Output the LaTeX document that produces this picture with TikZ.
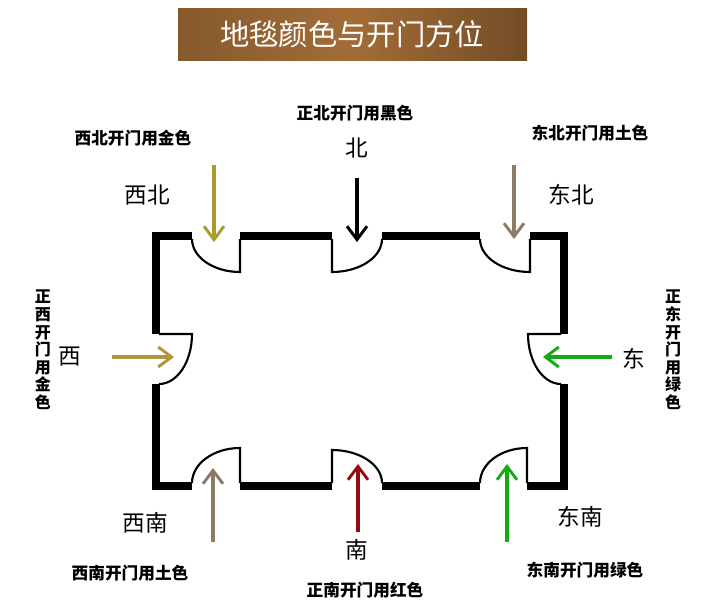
\documentclass[tikz,border=0pt]{standalone}
\usetikzlibrary{arrows.meta}
\usepackage{fontspec}
\setmainfont{Noto Sans CJK SC}
\begin{document}
\begin{tikzpicture}[x=0.75pt,y=-0.75pt,
  wall/.style={line width=6pt,line cap=butt,line join=miter},
  door/.style={line width=1.6pt},
  arr/.style={line width=2.8pt,-{Straight Barb[length=10pt,width=15pt,line width=2.2pt]}},
  lab/.style={font=\bfseries\fontsize{12.5}{15}\selectfont},
  dir/.style={font=\fontsize{17}{19}\selectfont},
  vlab/.style={font=\bfseries\fontsize{12}{13.2}\selectfont,align=center,inner sep=0pt}]
\useasboundingbox (0,0) rectangle (718,615);
\fill[white] (0,0) rectangle (718,615);
\shade[left color=brown!70!black,right color=brown!60!black,middle color=brown!85!black] (178,8) rectangle (527,60);
\node[text=white,font=\fontsize{22}{24}\selectfont] (title) at (352,34) {地毯颜色与开门方位};
% walls
\draw[wall] (156,334) -- (156,236) -- (192,236);
\draw[wall] (240,236) -- (332,236);
\draw[wall] (382,236) -- (480,236);
\draw[wall] (530,236) -- (564,236) -- (564,334);
\draw[wall] (564,384) -- (564,486) -- (527,486);
\draw[wall] (480,486) -- (382,486);
\draw[wall] (332,486) -- (240,486);
\draw[wall] (192,486) -- (156,486) -- (156,384);
% doors
\draw[door] (240,239) -- (240,272) arc[start angle=90,end angle=180,x radius=48,y radius=33];
\draw[door] (332,239) -- (332,272) arc[start angle=90,end angle=0,x radius=50,y radius=33];
\draw[door] (530,239) -- (530,272) arc[start angle=90,end angle=180,x radius=50,y radius=33];
\draw[door] (240,483) -- (240,448) arc[start angle=270,end angle=180,x radius=48,y radius=35];
\draw[door] (332,483) -- (332,450) arc[start angle=270,end angle=360,x radius=50,y radius=33];
\draw[door] (527,483) -- (527,448) arc[start angle=270,end angle=180,x radius=47,y radius=35];
\draw[door] (159,334) -- (192,334) arc[start angle=0,end angle=90,x radius=33,y radius=50];
\draw[door] (561,334) -- (528,334) arc[start angle=180,end angle=90,x radius=33,y radius=50];
% arrows
\coordinate (a1s) at (214,165); \coordinate (a1e) at (214,242);
\coordinate (a2s) at (357,178); \coordinate (a2e) at (357,242);
\coordinate (a3s) at (514,165); \coordinate (a3e) at (514,239);
\coordinate (a4s) at (112,357); \coordinate (a4e) at (174,357);
\coordinate (a5s) at (612,357); \coordinate (a5e) at (543,357);
\coordinate (a6s) at (213,542); \coordinate (a6e) at (213,468);
\coordinate (a7s) at (358,532); \coordinate (a7e) at (358,464);
\coordinate (a8s) at (507,542); \coordinate (a8e) at (507,464);
\draw[arr,color={rgb,255:red,170;green,155;blue,45}] (a1s) -- (a1e);
\draw[arr,black] (a2s) -- (a2e);
\draw[arr,color={rgb,255:red,140;green,122;blue,100}] (a3s) -- (a3e);
\draw[arr,color={rgb,255:red,175;green,150;blue,60}] (a4s) -- (a4e);
\draw[arr,color={rgb,255:red,20;green,170;blue,20}] (a5s) -- (a5e);
\draw[arr,color={rgb,255:red,140;green,122;blue,100}] (a6s) -- (a6e);
\draw[arr,color={rgb,255:red,150;green,10;blue,20}] (a7s) -- (a7e);
\draw[arr,color={rgb,255:red,20;green,170;blue,20}] (a8s) -- (a8e);
% labels
\node[lab] (ln) at (355,113) {正北开门用黑色};
\node[dir] (dn) at (357,148) {北};
\node[lab] (lnw) at (133,138) {西北开门用金色};
\node[dir] (dnw) at (147,195) {西北};
\node[lab] (lne) at (590,133) {东北开门用土色};
\node[dir] (dne) at (571,195) {东北};
\node[vlab] (lw) at (43,350) {正\\西\\开\\门\\用\\金\\色};
\node[dir] (dw) at (70,357) {西};
\node[vlab] (le) at (673,350) {正\\东\\开\\门\\用\\绿\\色};
\node[dir] (de) at (634,359) {东};
\node[dir] (dsw) at (145,523) {西南};
\node[lab] (lsw) at (130,573) {西南开门用土色};
\node[dir] (ds) at (357,550) {南};
\node[lab] (ls) at (365,590) {正南开门用红色};
\node[dir] (dse) at (580,517) {东南};
\node[lab] (lse) at (585,570) {东南开门用绿色};
\end{tikzpicture}
\end{document}
